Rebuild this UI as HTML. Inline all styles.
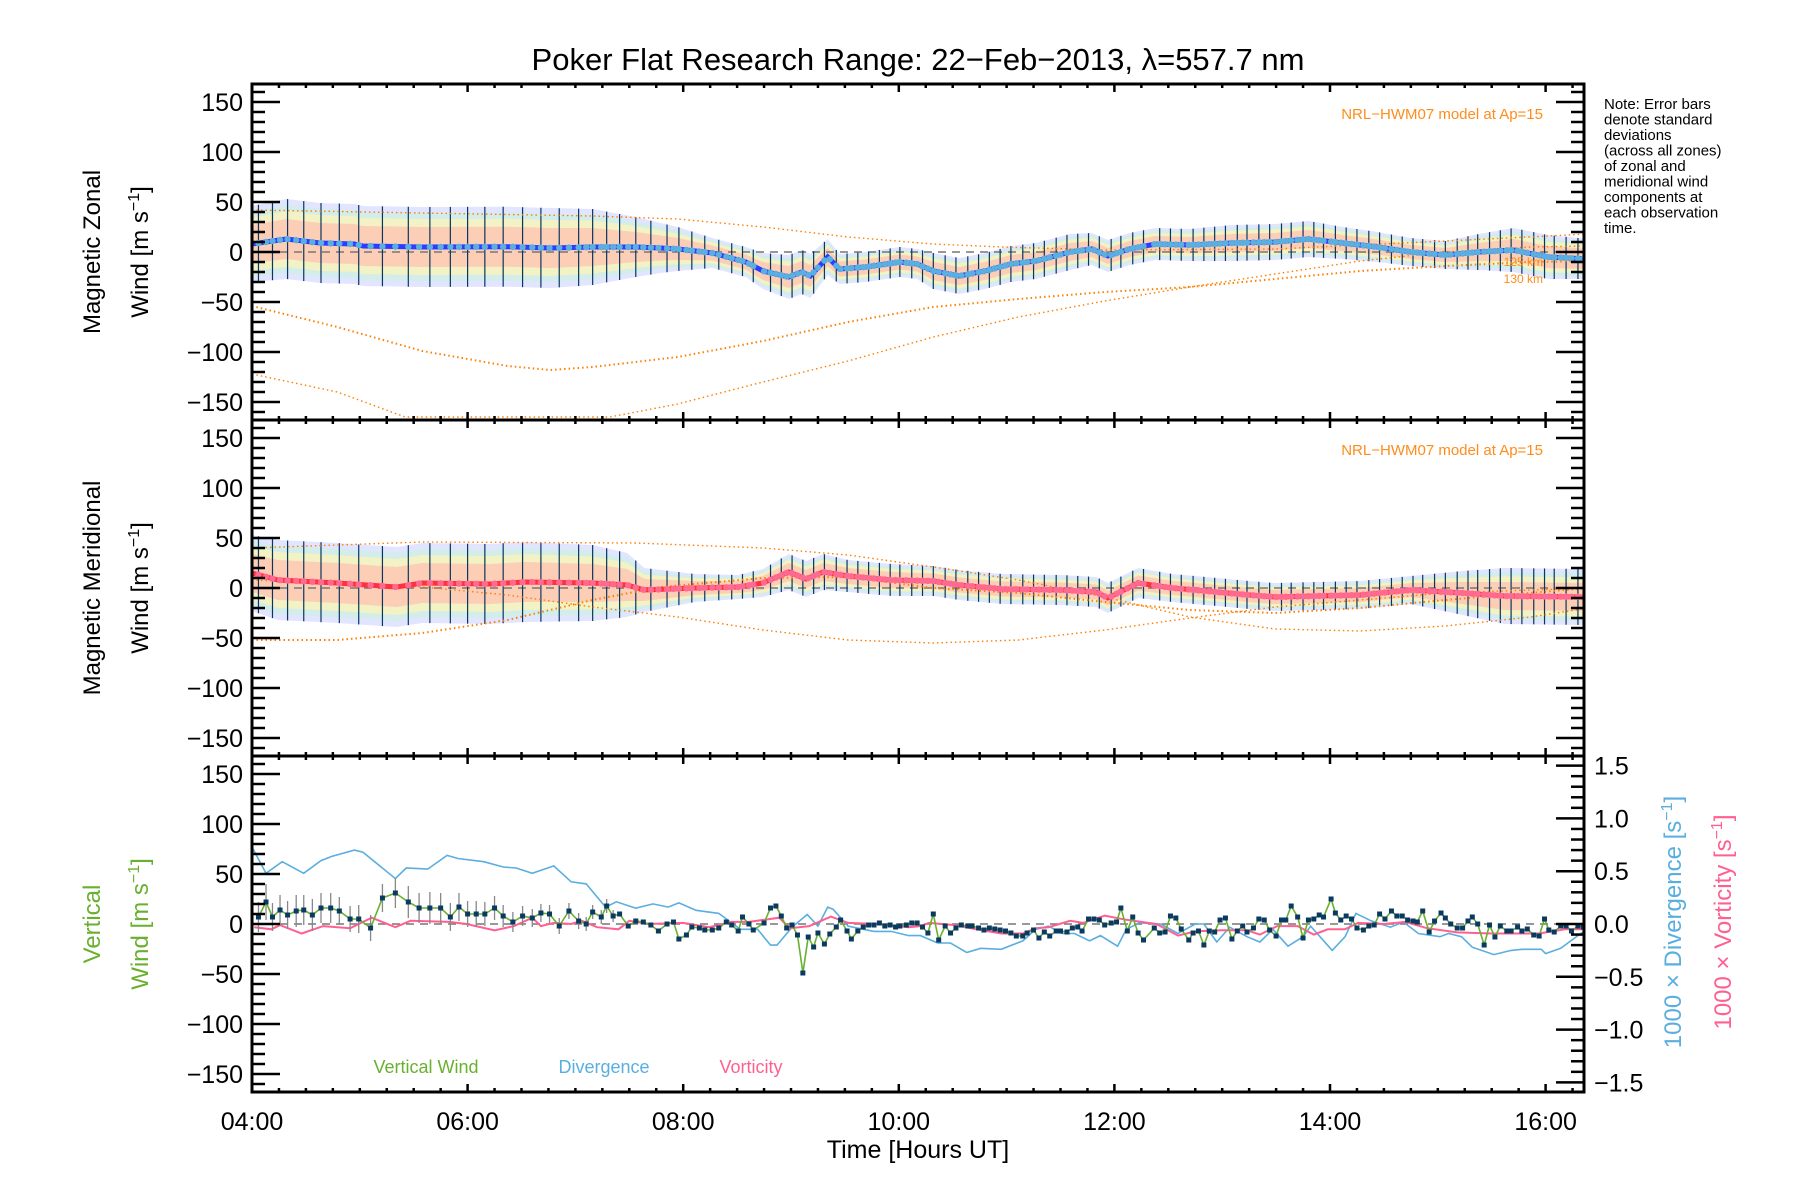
<!DOCTYPE html>
<html><head><meta charset="utf-8">
<style>
html,body{margin:0;padding:0;background:#fff;}
svg{display:block;font-family:"Liberation Sans",sans-serif;}
</style></head>
<body>
<svg id="chart" width="1800" height="1200" viewBox="0 0 1800 1200" xmlns="http://www.w3.org/2000/svg">
<rect x="0" y="0" width="1800" height="1200" fill="#fff"/>
<text x="918" y="70" font-size="31" text-anchor="middle" fill="#000">Poker Flat Research Range: 22−Feb−2013, λ=557.7 nm</text>
<g id="plots"></g>
<g id="axes"></g>
<text transform="translate(100,252) rotate(-90)" font-size="24" text-anchor="middle">Magnetic Zonal</text>
<text transform="translate(148,252) rotate(-90)" font-size="24" text-anchor="middle">Wind [m s<tspan dy="-9" font-size="16">−1</tspan><tspan dy="9">]</tspan></text>
<text transform="translate(100,588) rotate(-90)" font-size="24" text-anchor="middle">Magnetic Meridional</text>
<text transform="translate(148,588) rotate(-90)" font-size="24" text-anchor="middle">Wind [m s<tspan dy="-9" font-size="16">−1</tspan><tspan dy="9">]</tspan></text>
<text transform="translate(100,924) rotate(-90)" font-size="24" text-anchor="middle" fill="#6ab030">Vertical</text>
<text transform="translate(148,924) rotate(-90)" font-size="24" text-anchor="middle" fill="#6ab030">Wind [m s<tspan dy="-9" font-size="16">−1</tspan><tspan dy="9">]</tspan></text>
<text transform="translate(1681,922) rotate(-90)" font-size="24" text-anchor="middle" fill="#5aaee0">1000 × Divergence [s<tspan dy="-9" font-size="16">−1</tspan><tspan dy="9">]</tspan></text>
<text transform="translate(1731,922) rotate(-90)" font-size="24" text-anchor="middle" fill="#ff6090">1000 × Vorticity [s<tspan dy="-9" font-size="16">−1</tspan><tspan dy="9">]</tspan></text>
<text x="918" y="1158" font-size="25" text-anchor="middle">Time [Hours UT]</text>
<text x="1543" y="119" font-size="15" text-anchor="end" fill="#ff8c1a">NRL−HWM07 model at Ap=15</text>
<text x="1543" y="455" font-size="15" text-anchor="end" fill="#ff8c1a">NRL−HWM07 model at Ap=15</text>
<text x="1543" y="266" font-size="12" text-anchor="end" fill="#ff8c1a">125 km</text>
<text x="1543" y="283" font-size="12" text-anchor="end" fill="#ff8c1a">130 km</text>
<text x="426" y="1073" font-size="18" text-anchor="middle" fill="#6ab030">Vertical Wind</text>
<text x="604" y="1073" font-size="18" text-anchor="middle" fill="#5aaee0">Divergence</text>
<text x="751" y="1073" font-size="18" text-anchor="middle" fill="#ff6090">Vorticity</text>
<g font-size="15" fill="#000">
<text x="1604" y="109">Note: Error bars</text>
<text x="1604" y="124.5">denote standard</text>
<text x="1604" y="140">deviations</text>
<text x="1604" y="155.5">(across all zones)</text>
<text x="1604" y="171">of zonal and</text>
<text x="1604" y="186.5">meridional wind</text>
<text x="1604" y="202">components at</text>
<text x="1604" y="217.5">each observation</text>
<text x="1604" y="233">time.</text>
</g>
</svg>
<script>
// ---------- data ----------
const zonalTimes=[4.0,4.32,4.63,4.95,5.03,5.58,6.37,6.77,7.16,7.56,7.79,7.95,8.27,8.58,8.74,8.98,9.10,9.18,9.34,9.45,9.69,10.01,10.17,10.32,10.56,10.80,11.04,11.27,11.59,11.79,11.94,12.14,12.38,12.70,13.09,13.49,13.80,14.12,14.44,14.75,15.07,15.38,15.70,16.02,16.40];
const zonalMean=[8,13,9,8,6,5,5.3,4,5,5,4,3,-1,-10,-19,-25,-20,-24,-5,-17,-15,-10,-12,-19,-24,-19,-12,-9,0,3,-4,3,8,7,9,10,13,9,5,0,-3,0,2,-5,-7];
const zonalStd=[38,40,40,40,40,40,40,40,38,30,25,22,15,15,18,22,22,22,18,15,15,15,15,18,18,18,18,18,18,16,16,16,16,16,18,18,18,16,15,14,14,18,22,22,20];
const meridTimes=[4.0,4.24,4.79,5.34,5.58,6.21,6.53,7.16,7.48,7.64,8.11,8.51,8.74,8.98,9.14,9.30,9.53,9.93,10.32,10.56,10.96,11.51,11.83,11.94,12.22,12.54,12.85,13.25,13.49,13.88,14.28,14.75,15.23,15.62,16.40];
const meridMean=[15,8,5,1,5,4,6,5,3,-2,0,1,5,16,9,16,12,8,7,3,-1,-2,-4,-10,5,0,-3,-7,-9,-8,-7,-2,-5,-8,-9];
const meridStd=[38,40,40,40,40,40,40,38,32,22,14,12,14,18,18,18,16,16,15,15,15,15,15,15,15,14,14,14,14,14,14,14,22,28,28];
const zModelA_t=[4,5.58,7.16,7.95,8.74,9.53,10.32,10.96,11.91,13.49,15.07,16.40];
const zModelA_v=[42,39,36,33,25,15,8,5,2,3,11,18];
const zModelB_t=[4,4.79,5.58,6.37,6.77,7.16,7.95,8.74,9.53,10.32,11.11,11.91,12.70,13.49,14.28,15.07,15.86,16.40];
const zModelB_v=[-54,-75,-99,-114,-118,-115,-105,-89,-70,-55,-47,-40,-35,-27,-19,-14,-10,-9];
const zModelC_t=[4,4.79,5.42,7.32,7.95,8.74,9.53,10.32,11.11,11.91,12.70,13.49,14.28,15.07,15.86,16.40];
const zModelC_v=[-122,-140,-165,-165,-152,-130,-109,-85,-65,-49,-35,-22,-9,0,5,6];
const mModelA_t=[4,5.58,7.56,8.74,9.53,10.32,11.11,11.91,12.70,13.49,14.28,15.07,15.86,16.40];
const mModelA_v=[40,46,45,40,33,21,8,-9,-29,-41,-43,-38,-29,-20];
const mModelB_t=[4,4.79,5.58,6.37,7.16,7.79,8.74,9.53,10.32,11.11,11.91,12.70,13.49,14.28,15.07,16.40];
const mModelB_v=[-52,-52,-45,-32,-12,1,10,11,0,-5,-14,-22,-25,-20,-12,0];
const mModelC_t=[4,5.58,6.37,7.16,7.95,8.74,9.53,10.32,11.11,11.91,12.70,13.49,14.28,15.07,16.40];
const mModelC_v=[8,1,-7,-19,-29,-42,-52,-55,-52,-42,-30,-19,-12,-5,0];
const vwTimes=[4.06,4.13,4.19,4.26,4.33,4.41,4.48,4.56,4.64,4.73,4.81,4.91,4.99,5.10,5.21,5.33,5.45,5.55,5.65,5.75,5.84,5.92,6.00,6.08,6.16,6.25,6.33,6.42,6.51,6.60,6.68,6.76,6.85,6.94,7.03,7.10,7.16,7.24,7.29,7.35,7.41,7.49,7.56,7.63,7.70,7.77,7.85,7.91,7.96,8.03,8.08,8.15,8.20,8.27,8.33,8.40,8.45,8.51,8.55,8.61,8.65,8.75,8.81,8.86,8.91,8.96,9.01,9.06,9.11,9.16,9.21,9.25,9.31,9.36,9.42,9.46,9.52,9.56,9.62,9.67,9.72,9.77,9.82,9.87,9.92,9.97,10.01,10.07,10.12,10.17,
10.22,10.27,10.32,10.37,10.43,10.48,10.53,10.58,10.64,10.68,10.74,10.79,10.84,10.89,10.94,10.99,11.04,11.09,11.15,11.19,11.25,11.30,11.35,11.40,11.46,11.50,11.56,11.61,11.66,11.70,11.76,11.81,11.86,11.91,11.97,12.02,12.06,12.12,12.17,12.22,12.27,12.37,12.42,12.47,12.52,12.57,12.62,12.69,12.73,12.78,12.83,12.88,12.93,12.98,13.03,13.09,13.14,13.19,13.23,13.29,13.34,13.39,13.44,13.50,13.55,13.59,13.64,13.70,13.75,13.80,13.85,13.90,13.94,14.01,14.05,14.10,14.15,14.20,14.25,14.31,14.36,14.41,14.46,14.51,14.57,14.62,14.67,14.72,14.77,14.81,14.86,14.92,14.97,15.03,15.07,15.12,15.18,15.23,15.28,15.32,15.37,15.43,15.48,15.53,15.58,15.64,15.68,15.74,15.78,15.83,15.89,15.94,15.99,16.03,16.08,16.14,16.19,16.24,16.30,16.35];
const vwValues=[7,22,7,14,9,13,14,9,16,16,13,5,5,-4,26,31,22,16,16,16,7,17,10,10,10,16,8,2,8,6,11,10,-2,13,3,0,12,7,18,8,10,-2,3,2,-1,-7,0,2,-15,-11,-3,-4,-6,-6,-4,2,-1,-7,7,0,-6,1,16,18,8,-4,-1,-11,-49,-13,-23,-9,-20,-10,-3,4,-7,-15,-7,-3,-1,-1,1,-2,-1,-3,-2,-1,1,1,
-3,-9,10,-16,-2,-9,-4,-1,-2,-2,-4,-6,-4,-5,-6,-7,-9,-12,-12,-9,-6,-14,-8,-12,-7,-7,-8,-4,-3,-7,5,5,4,-1,1,2,16,-7,7,-9,-16,-4,-9,-8,8,6,-5,-16,-9,-7,-21,-7,-8,4,6,-15,-7,-2,-8,-4,5,4,-6,-12,4,4,18,7,-14,4,5,9,7,25,11,4,8,5,-4,-6,-2,-1,10,5,13,8,8,4,3,2,13,-8,3,11,6,0,-4,-4,3,7,0,-21,-1,-13,-2,-7,-7,-3,-7,-5,-11,-12,5,-6,-8,-2,-2,-7,-2,-3];
const vwErr=[15,18,14,15,14,16,15,16,15,15,14,13,14,13,14,15,16,15,16,15,14,14,13,13,12,12,11,10,10,9,9,9,8,8,8,7,7,7,7,6];
const divTimes=[4.01,4.13,4.28,4.48,4.64,4.74,4.95,5.03,5.33,5.43,5.63,5.81,5.91,6.15,6.33,6.45,6.60,6.80,6.96,7.10,7.28,7.38,7.56,7.72,7.86,7.96,8.12,8.33,8.53,8.69,8.81,8.87,9.01,9.15,9.25,9.34,9.39,9.53,9.77,9.93,10.09,
10.20,10.36,10.48,10.63,10.76,10.95,11.15,11.27,11.39,11.51,11.63,11.77,11.87,12.03,12.11,12.23,12.43,12.59,12.75,12.83,12.95,13.07,13.23,13.35,13.47,13.61,13.75,13.82,14.02,14.14,14.24,14.38,14.56,14.68,14.82,15.02,15.10,15.22,15.32,15.52,15.68,15.78,15.96,16.00,16.14,16.30,16.38];
const divValues=[0.71,0.48,0.59,0.48,0.60,0.64,0.70,0.68,0.43,0.53,0.52,0.65,0.62,0.59,0.54,0.53,0.48,0.55,0.40,0.38,0.16,0.21,0.15,0.19,0.16,0.20,0.13,0.10,-0.05,-0.05,-0.20,-0.20,-0.03,0.09,-0.02,0.16,0.14,-0.02,-0.07,-0.07,-0.11,
-0.11,-0.18,-0.18,-0.27,-0.23,-0.24,-0.16,-0.05,-0.02,-0.09,-0.09,-0.16,-0.11,-0.21,-0.05,0.01,0,-0.09,0,0,-0.17,-0.03,-0.12,-0.17,-0.05,-0.21,-0.12,-0.02,-0.25,-0.12,0.10,0.03,-0.03,0.02,-0.09,-0.12,-0.09,-0.12,-0.22,-0.29,-0.25,-0.24,-0.24,-0.28,-0.23,-0.11,-0.05];
const vorTimes=[4.02,4.18,4.26,4.46,4.66,4.91,5.11,5.33,5.47,5.83,5.99,6.25,6.43,6.60,6.68,6.80,6.96,7.06,7.20,7.40,7.50,7.68,8.00,8.24,8.45,8.61,8.89,8.99,9.17,9.37,9.53,9.81,10.09,
10.20,10.28,10.52,10.72,10.95,11.15,11.27,11.39,11.59,11.71,11.91,12.11,12.39,12.59,12.75,12.99,13.23,13.35,13.51,13.70,13.85,13.98,14.14,14.26,14.50,14.70,14.90,15.18,15.50,15.94,16.18,16.38];
const vorValues=[-0.03,-0.05,-0.01,-0.09,-0.02,-0.04,0.06,-0.03,0.03,0.02,0,-0.06,-0.02,0.06,-0.02,0.01,0,0.03,-0.03,-0.05,0.03,0,0.01,-0.03,0.02,0.02,0.06,-0.04,-0.02,0.07,0.01,0,-0.03,
-0.02,0.01,-0.01,-0.05,-0.09,-0.09,-0.04,-0.03,0.03,0.01,0.08,0.04,0,-0.11,-0.07,-0.06,-0.06,-0.10,-0.02,-0.02,-0.10,-0.05,-0.05,0.01,0,0.02,-0.04,-0.08,-0.09,-0.09,-0.05,-0.05];

// ---------- axes helpers ----------
const NS="http://www.w3.org/2000/svg";
const L=252,R=1584,H=336,YR=168;
const tops=[84,420,756];
function X(h){return L+(h-4)*107.8;}
function Y(p,v){return tops[p]+H/2-v*(H/(2*YR));}
function YR2(v){return tops[2]+H/2-v*105.6;}
function el(tag,attrs,parent){const e=document.createElementNS(NS,tag);for(const k in attrs)e.setAttribute(k,attrs[k]);parent.appendChild(e);return e;}
function interp(ts,vs,t){if(t<=ts[0])return vs[0];for(let i=1;i<ts.length;i++){if(t<=ts[i]){const f=(t-ts[i-1])/(ts[i]-ts[i-1]);return vs[i-1]+f*(vs[i]-vs[i-1]);}}return vs[vs.length-1];}
function pts(ts,vs,fy){return ts.map((t,i)=>X(t).toFixed(1)+","+fy(vs[i]).toFixed(1)).join(" ");}

const plots=document.getElementById('plots');
const axes=document.getElementById('axes');
const defs=el('defs',{},plots);
tops.forEach((t,i)=>{const c=el('clipPath',{id:'clip'+i},defs);el('rect',{x:L,y:t,width:R-L,height:H},c);});

// ---------- wind panels ----------
function windPanel(p,ts,mean,std,models,lineCol,dotCol,name){
  const g=el('g',{'clip-path':'url(#clip'+p+')'},plots);
  
  
  const bands=[[1.0,'#c8d0ff',0.55],[0.85,'#c8f2dc',0.6],[0.7,'#fff4b4',0.7],[0.5,'#ffc2b2',0.75]];
  bands.forEach(([k,c,o])=>{
    const up=ts.map((t,i)=>X(t).toFixed(1)+","+Y(p,mean[i]+k*std[i]).toFixed(1));
    const dn=ts.map((t,i)=>X(t).toFixed(1)+","+Y(p,mean[i]-k*std[i]).toFixed(1)).reverse();
    const b=el('polygon',{points:up.concat(dn).join(" "),fill:c,opacity:o},g);
    
    
  });
  const z=el('line',{x1:L,x2:R,y1:Y(p,0),y2:Y(p,0),stroke:'#777','stroke-width':1.5,'stroke-dasharray':'8 6'},g);
  
  
  vwTimes.forEach((t,i)=>{
    if(i%2) return;
    const m=interp(ts,mean,t),s=interp(ts,std,t);
    const e=el('line',{x1:X(t),x2:X(t),y1:Y(p,m+s),y2:Y(p,m-s),stroke:'#0a3560','stroke-width':1.2},g);
    
    
  });
  models.forEach(([mt,mv],j)=>{
    const c=el('polyline',{points:pts(mt,mv,v=>Y(p,v)),fill:'none',stroke:'#ff7f00','stroke-width':j===1?2:1.4,'stroke-dasharray':'1.5 3'},g);
    
    
  });
  const ml=el('polyline',{points:pts(ts,mean,v=>Y(p,v)),fill:'none',stroke:lineCol,'stroke-width':5},g);
  
  
  vwTimes.forEach(t=>{
    const d=el('circle',{cx:X(t),cy:Y(p,interp(ts,mean,t)),r:3.2,fill:dotCol},g);
    
    
  });
}
windPanel(0,zonalTimes,zonalMean,zonalStd,[[zModelA_t,zModelA_v],[zModelB_t,zModelB_v],[zModelC_t,zModelC_v]],'#2a3cff','#5aaee0','zonal');
windPanel(1,meridTimes,meridMean,meridStd,[[mModelA_t,mModelA_v],[mModelB_t,mModelB_v],[mModelC_t,mModelC_v]],'#ff3040','#ff6a90','meridional');

// ---------- vertical panel ----------
(function(){
  const p=2;
  const g=el('g',{'clip-path':'url(#clip2)'},plots);
  
  
  const z=el('line',{x1:L,x2:R,y1:Y(p,0),y2:Y(p,0),stroke:'#777','stroke-width':1.5,'stroke-dasharray':'8 6'},g);
  
  
  const dv=el('polyline',{points:pts(divTimes,divValues,YR2),fill:'none',stroke:'#5aaee0','stroke-width':1.6},g);
  
  
  const vo=el('polyline',{points:pts(vorTimes,vorValues,YR2),fill:'none',stroke:'#ff6090','stroke-width':2},g);
  
  
  vwErr.forEach((e,i)=>{
    const b=el('line',{x1:X(vwTimes[i]),x2:X(vwTimes[i]),y1:Y(p,vwValues[i]+e),y2:Y(p,vwValues[i]-e),stroke:'#888','stroke-width':1.3},g);
    
    
  });
  const vl=el('polyline',{points:pts(vwTimes,vwValues,v=>Y(p,v)),fill:'none',stroke:'#6ab030','stroke-width':1.6},g);
  
  
  vwTimes.forEach((t,i)=>{
    const r=el('rect',{x:X(t)-2.5,y:Y(p,vwValues[i])-2.5,width:5,height:5,fill:'#0a3a60'},g);
    
    
  });
})();

// ---------- axes ----------
const yTicks=[];for(let v=-160;v<=160;v+=10)yTicks.push(v);
const yLabels=[-150,-100,-50,0,50,100,150];
const xTicks=[];for(let h=4;h<=16.3;h+=0.25)xTicks.push(h);
const xLabels=[4,6,8,10,12,14,16];
const rTicks=[];for(let k=-15;k<=15;k++)rTicks.push(k/10);
const rLabels=[-1.5,-1.0,-0.5,0.0,0.5,1.0,1.5];
const stroke={stroke:'#000','stroke-width':2.5};
tops.forEach((t,p)=>{
  const box=el('rect',{x:L,y:t,width:R-L,height:H,fill:'none',stroke:'#000','stroke-width':3},axes);
  
  
  yTicks.forEach(v=>{
    const maj=v%50===0,len=maj?28:13,y=Y(p,v);
    const a=el('line',Object.assign({x1:L,x2:L+len,y1:y,y2:y},stroke),axes);
    
    
    if(p<2){
      const b=el('line',Object.assign({x1:R,x2:R-len,y1:y,y2:y},stroke),axes);
      
      
    }
  });
  yLabels.forEach(v=>{
    const tx=el('text',{x:243,y:Y(p,v)+9,'font-size':25,'text-anchor':'end'},axes);
    tx.textContent=(v<0?'−':'')+Math.abs(v);
    
    
  });
  xTicks.forEach(h=>{
    const maj=Math.abs(h/2-Math.round(h/2))<1e-6,len=maj?8:4,x=X(h);
    const a=el('line',Object.assign({x1:x,x2:x,y1:t+H,y2:t+H-len},stroke),axes);
    
    
    const b=el('line',Object.assign({x1:x,x2:x,y1:t,y2:t+len},stroke),axes);
    
    
  });
});
rTicks.forEach(v=>{
  const maj=Math.abs(v*2-Math.round(v*2))<1e-6,len=maj?28:13,y=YR2(v);
  const a=el('line',Object.assign({x1:R,x2:R-len,y1:y,y2:y},stroke),axes);
  
  
});
rLabels.forEach(v=>{
  const tx=el('text',{x:1594,y:YR2(v)+9,'font-size':25,'text-anchor':'start'},axes);
  tx.textContent=(v<0?'−':'')+Math.abs(v).toFixed(1);
  
  
});
xLabels.forEach(h=>{
  const tx=el('text',{x:X(h),y:1130,'font-size':25,'text-anchor':'middle'},axes);
  tx.textContent=(h<10?'0':'')+h+':00';
  
  
});
</script>
</body></html>
